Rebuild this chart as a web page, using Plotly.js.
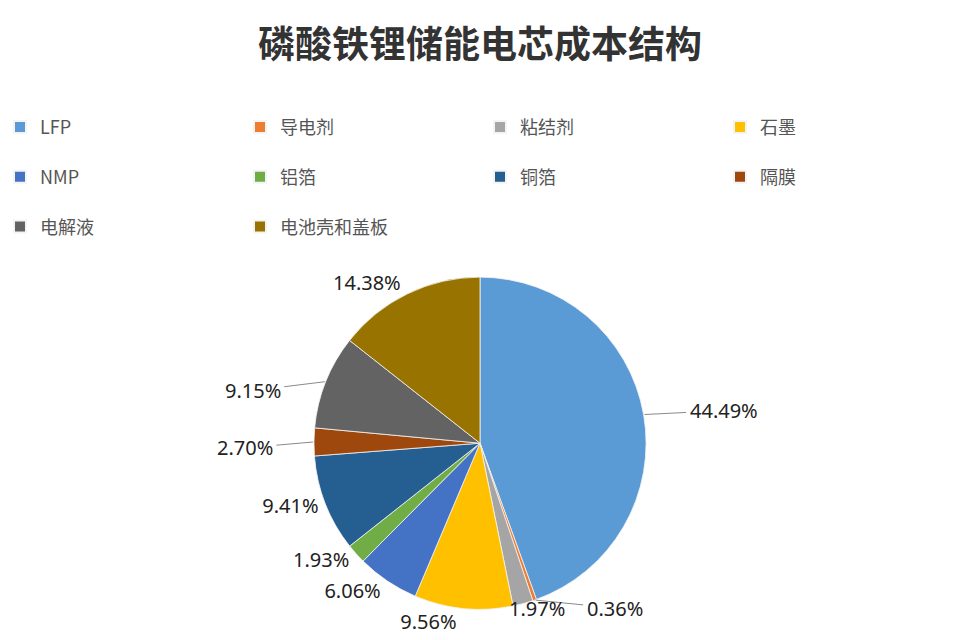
<!DOCTYPE html>
<html><head><meta charset="utf-8">
<script src="https://cdn.plot.ly/plotly-3.0.1.min.js"></script>
<style>html,body{margin:0;padding:0;background:#fff}#chart{width:960px;height:640px}</style>
</head><body><div id="chart"></div>
<script>
const categories = ["LFP","导电剂","粘结剂","石墨","NMP","铝箔","铜箔","隔膜","电解液","电池壳和盖板"];
const shares = [44.49,0.36,1.97,9.56,6.06,1.93,9.41,2.70,9.15,14.38];
const colors = ["#5B9BD5","#ED7D31","#A5A5A5","#FFC000","#4472C4","#70AD47","#255E91","#9E480E","#636363","#997300"];
const labelsText = shares.map(v => v.toFixed(2) + "%");

// pie geometry (pixels) used to attach leader lines to slice edges
const W = 960, H = 640;
const domX = [0.3, 0.7], domY = [0.048, 0.567];
const cx = W * (domX[0] + domX[1]) / 2;
const cy = H * (1 - (domY[0] + domY[1]) / 2);
const R = Math.min(W * (domX[1] - domX[0]), H * (domY[1] - domY[0])) / 2;

// labels drawn as annotations with leader lines: index -> text offset [ax, ay] in px
const leader = {0: [80, -4], 1: [80, 8], 8: [-73, 9], 7: [-69, 6]};
const plain = {2: [14, 5]};

const labelFont = {family: "Noto Sans, DejaVu Sans, sans-serif", size: 20, color: "#222"};

const total = shares.reduce((a, b) => a + b, 0);
function edgePoint(i) {
  let cum = 0;
  for (let k = 0; k < i; k++) cum += shares[k];
  const th = 2 * Math.PI * (cum + shares[i] / 2) / total;
  return [cx + R * Math.sin(th), cy - R * Math.cos(th)];
}

const annotations = [];
Object.keys(leader).forEach(k => {
  const i = +k, p = edgePoint(i), o = leader[i];
  annotations.push({xref: "paper", yref: "paper", x: p[0] / W, y: 1 - p[1] / H, text: labelsText[i],
    showarrow: true, arrowhead: 0, arrowwidth: 1, arrowcolor: "#8a8a8a", ax: o[0], ay: o[1],
    font: labelFont, standoff: 1, startstandoff: 2});
});
Object.keys(plain).forEach(k => {
  const i = +k, p = edgePoint(i), o = plain[i];
  annotations.push({xref: "paper", yref: "paper", x: (p[0] + o[0]) / W, y: 1 - (p[1] + o[1]) / H,
    text: labelsText[i], showarrow: false, font: labelFont, xanchor: "center", yanchor: "middle"});
});

const trace = {
  type: "pie",
  labels: categories.map(c => c + "<br> "),
  values: shares,
  text: labelsText,
  textinfo: "text",
  textposition: shares.map((v, i) => (i in leader || i in plain) ? "none" : "outside"),
  sort: false,
  direction: "clockwise",
  rotation: 0,
  marker: {colors: colors, line: {color: "#f4f4f4", width: 0.8}},
  outsidetextfont: labelFont,
  domain: {x: domX, y: domY},
  automargin: false,
  hoverinfo: "label+percent"
};

const layout = {
  width: W, height: H,
  margin: {l: 0, r: 0, t: 0, b: 0},
  paper_bgcolor: "#ffffff",
  title: {text: "<b>磷酸铁锂储能电芯成本结构</b>", x: 0.5, xanchor: "center", y: 0.93, yanchor: "middle",
          font: {family: "Noto Sans CJK SC", size: 37, color: "#333"}},
  showlegend: true,
  legend: {orientation: "h", x: 0.002, y: 0.83, xanchor: "left", yanchor: "top",
           bgcolor: "rgba(0,0,0,0)",
           entrywidth: 195, entrywidthmode: "pixels", traceorder: "normal", valign: "top",
           font: {family: "Noto Sans CJK SC", size: 18, color: "#555"}, itemsizing: "constant"},
  annotations: annotations
};

Plotly.newPlot("chart", [trace], layout, {staticPlot: true});
</script></body></html>
